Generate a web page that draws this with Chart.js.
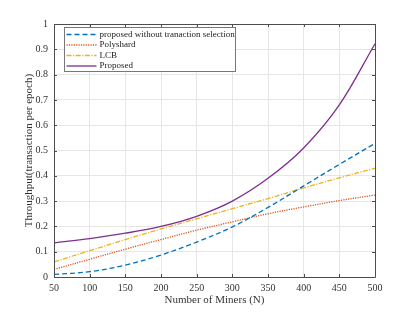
<!DOCTYPE html>
<html>
<head>
<meta charset="utf-8">
<script src="https://cdn.jsdelivr.net/npm/chart.js@4"></script>
<style>
  html, body { margin: 0; padding: 0; background: #fff; }
  #wrap { width: 415px; height: 312px; position: relative; }
</style>
</head>
<body>
<div id="wrap"><canvas id="chart"></canvas></div>
<script>
// ── Data ──
const miners = [50, 100, 150, 200, 250, 300, 350, 400, 450, 500];
const withoutSelection = [0.010, 0.021, 0.047, 0.087, 0.138, 0.198, 0.275, 0.360, 0.445, 0.528];
const polyshard = [0.030, 0.070, 0.110, 0.148, 0.185, 0.218, 0.250, 0.277, 0.302, 0.324];
const lcb = [0.060, 0.104, 0.148, 0.190, 0.230, 0.270, 0.310, 0.352, 0.392, 0.430];
const proposed = [0.135, 0.152, 0.173, 0.200, 0.240, 0.300, 0.390, 0.510, 0.680, 0.922];

const seriesLabels = ['proposed without tranaction selection', 'Polyshard', 'LCB', 'Proposed'];
const xTicks = [50, 100, 150, 200, 250, 300, 350, 400, 450, 500];
const yTicks = [0, 0.1, 0.2, 0.3, 0.4, 0.5, 0.6, 0.7, 0.8, 0.9, 1];

const FONT = "'Liberation Serif', 'Times New Roman', serif";

function toPoints(ys) {
  return miners.map((x, i) => ({ x, y: ys[i] }));
}

// ── MATLAB-like box, inner ticks and in-plot legend ──
const boxPlugin = {
  id: 'box',
  afterDatasetsDraw(chart) {
    const { ctx, chartArea: a, scales } = chart;
    ctx.save();
    ctx.strokeStyle = '#4d4d4d';
    ctx.lineWidth = 1;
    ctx.beginPath();
    ctx.rect(Math.round(a.left) + 0.5, Math.round(a.top) + 0.5,
      Math.round(a.right - a.left), Math.round(a.bottom - a.top));
    const tl = 3;
    xTicks.forEach(v => {
      const px = Math.round(scales.x.getPixelForValue(v)) + 0.5;
      ctx.moveTo(px, a.bottom); ctx.lineTo(px, a.bottom - tl);
      ctx.moveTo(px, a.top); ctx.lineTo(px, a.top + tl);
    });
    yTicks.forEach(v => {
      const py = Math.round(scales.y.getPixelForValue(v)) + 0.5;
      ctx.moveTo(a.left, py); ctx.lineTo(a.left + tl, py);
      ctx.moveTo(a.right, py); ctx.lineTo(a.right - tl, py);
    });
    ctx.stroke();

    // legend
    const lx = a.left + 10.5, ly = a.top + 3.5, lw = 171, lh = 44;
    ctx.fillStyle = '#fff';
    ctx.fillRect(lx, ly, lw, lh);
    ctx.strokeStyle = '#777';
    ctx.strokeRect(lx, ly, lw, lh);
    ctx.font = '9px ' + FONT;
    ctx.textBaseline = 'middle';
    chart.data.datasets.forEach((ds, i) => {
      const y = ly + 7 + i * 10.5;
      ctx.strokeStyle = ds.borderColor;
      ctx.lineWidth = ds.borderWidth;
      ctx.setLineDash(ds.borderDash || []);
      ctx.beginPath();
      ctx.moveTo(lx + 2, y); ctx.lineTo(lx + 32, y);
      ctx.stroke();
      ctx.setLineDash([]);
      ctx.fillStyle = '#222';
      ctx.fillText(ds.label, lx + 35, y);
    });
    ctx.restore();
  }
};

const datasets = [
  { label: seriesLabels[0], data: toPoints(withoutSelection), borderColor: '#0072BD', borderDash: [5, 3] },
  { label: seriesLabels[1], data: toPoints(polyshard), borderColor: '#D95319', borderDash: [1.2, 1.2] },
  { label: seriesLabels[2], data: toPoints(lcb), borderColor: '#EDB120', borderDash: [5, 1.5, 1.2, 1.5] },
  { label: seriesLabels[3], data: toPoints(proposed), borderColor: '#7E2F8E', borderDash: [] },
].map(d => ({ ...d, borderWidth: 1.3, pointRadius: 0, fill: false, tension: 0.35 }));

new Chart(document.getElementById('chart'), {
  type: 'line',
  data: { datasets },
  plugins: [boxPlugin],
  options: {
    responsive: true,
    maintainAspectRatio: false,
    animation: false,
    layout: { padding: { top: 24, right: 40, left: 0, bottom: 0 } },
    plugins: { legend: { display: false }, tooltip: { enabled: false } },
    scales: {
      x: {
        type: 'linear',
        min: 50, max: 500,
        afterFit: s => { s.height = 35; },
        afterBuildTicks: s => { s.ticks = xTicks.map(v => ({ value: v })); },
        grid: { color: '#e6e6e6', drawTicks: false },
        border: { display: false },
        ticks: { color: '#333', padding: 5, font: { family: FONT, size: 10 }, maxRotation: 0 },
        title: { display: true, text: 'Number of Miners (N)', color: '#333',
          font: { family: FONT, size: 11 }, padding: { top: 0, bottom: 5 } }
      },
      y: {
        min: 0, max: 1,
        afterFit: s => { s.width = 54; },
        afterBuildTicks: s => { s.ticks = yTicks.map(v => ({ value: v })); },
        grid: { color: '#e6e6e6', drawTicks: false },
        border: { display: false },
        ticks: { color: '#333', padding: 6, font: { family: FONT, size: 10 },
          callback: v => String(Math.round(v * 10) / 10) },
        title: { display: true, text: 'Throughput(transaction per epoch)', color: '#333',
          font: { family: FONT, size: 11 }, padding: { top: 23, bottom: 0 } }
      }
    }
  }
});
</script>
</body>
</html>
